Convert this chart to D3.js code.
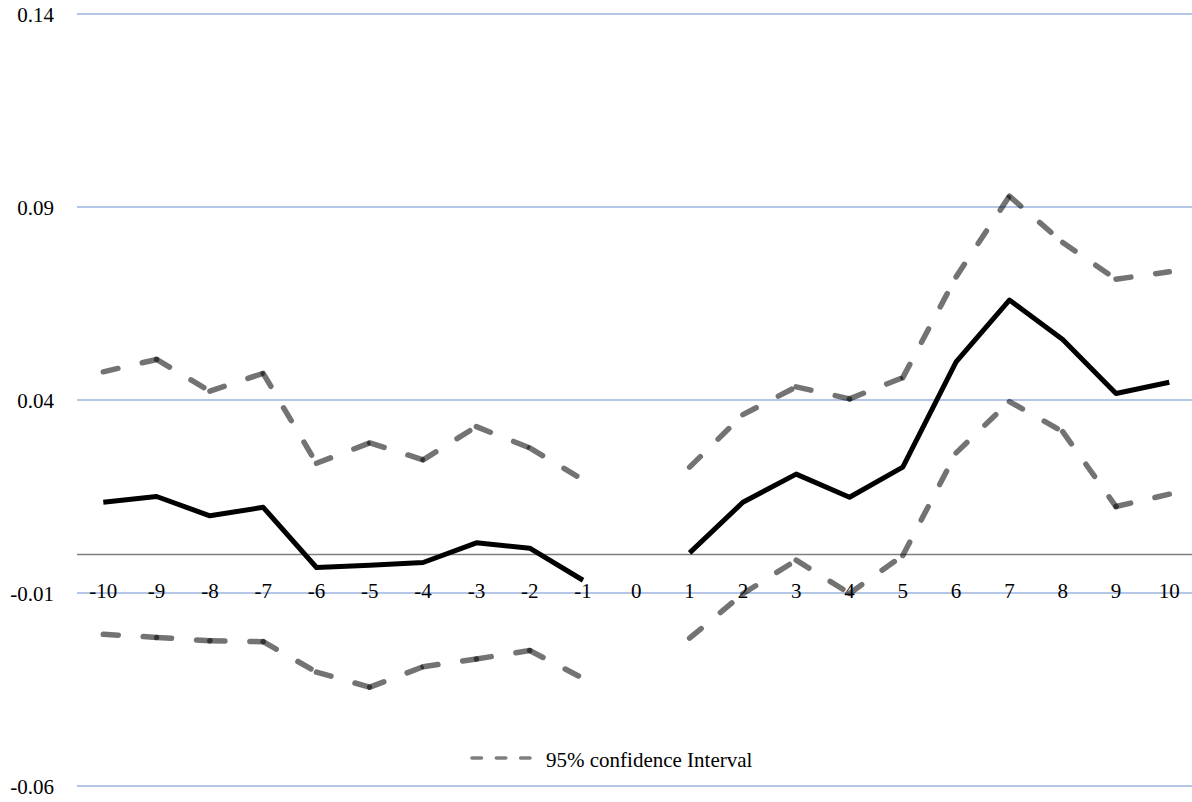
<!DOCTYPE html>
<html>
<head>
<meta charset="utf-8">
<script src="https://cdn.jsdelivr.net/npm/d3@7"></script>
<style>
  html, body { margin: 0; padding: 0; background: #fff; }
  svg { display: block; }
</style>
</head>
<body>
<svg id="chart" width="1192" height="802"></svg>
<script>
// Event window (days relative to the event)
const categories = ["-10","-9","-8","-7","-6","-5","-4","-3","-2","-1","0","1","2","3","4","5","6","7","8","9","10"];
// Point estimate
const estimate = [0.0135, 0.0150, 0.0100, 0.0122, -0.0034, -0.0028, -0.0021, 0.0030, 0.0016, -0.0067, null,
                  0.0004, 0.0135, 0.0208, 0.0148, 0.0226, 0.0499, 0.0659, 0.0557, 0.0417, 0.0446];
// 95% confidence band, upper and lower bounds
const upperCI = [0.0473, 0.0505, 0.0423, 0.0469, 0.0236, 0.0289, 0.0245, 0.0331, 0.0276, 0.0193, null,
                 0.0226, 0.0362, 0.0434, 0.0403, 0.0458, 0.0719, 0.0928, 0.0808, 0.0713, 0.0732];
const lowerCI = [-0.0207, -0.0215, -0.0224, -0.0226, -0.0305, -0.0344, -0.0291, -0.0271, -0.0249, -0.0321, null,
                 -0.0217, -0.0102, -0.0015, -0.0101, -0.0003, 0.0263, 0.0396, 0.0318, 0.0124, 0.0156];
const yTicks = [-0.06, -0.01, 0.04, 0.09, 0.14];
const yTickLabels = ["-0.06", "-0.01", "0.04", "0.09", "0.14"];
const legendLabel = "95% confidence Interval";

const svg = d3.select("#chart");
const fontFamily = "'Liberation Serif', 'Times New Roman', serif";
const fontSize = 21;

const x = d3.scalePoint().domain(categories).range([103.3, 1169.3]);
const y = d3.scaleLinear().domain([-0.06, 0.14]).range([786, 14]);
const plotLeft = 77, plotRight = 1192;

// horizontal gridlines
svg.append("g").selectAll("line").data(yTicks).join("line")
  .attr("x1", plotLeft).attr("x2", plotRight)
  .attr("y1", d => Math.round(y(d))).attr("y2", d => Math.round(y(d)))
  .attr("stroke", "#b4c7e7").attr("stroke-width", 2);

// value axis labels
svg.append("g").selectAll("text").data(yTicks).join("text")
  .attr("x", 54).attr("y", d => y(d) + 7.5)
  .attr("text-anchor", "end")
  .attr("font-family", fontFamily)
  .attr("font-size", fontSize)
  .attr("fill", "#000")
  .text((d, i) => yTickLabels[i]);

// zero line
svg.append("line")
  .attr("x1", plotLeft).attr("x2", plotRight)
  .attr("y1", y(0)).attr("y2", y(0))
  .attr("stroke", "#7f7f7f").attr("stroke-width", 1.5);

// category labels, sitting on the -0.01 gridline
svg.append("g").selectAll("text").data(categories).join("text")
  .attr("x", d => x(d)).attr("y", y(-0.01) + 4.5)
  .attr("text-anchor", "middle")
  .attr("font-family", fontFamily)
  .attr("font-size", fontSize)
  .attr("fill", "#000")
  .text(d => d);

// confidence bounds: each segment drawn as its own dashed path
function segments(values) {
  const segs = [];
  for (let i = 0; i < values.length - 1; i++) {
    if (values[i] != null && values[i + 1] != null) {
      segs.push([[x(categories[i]), y(values[i])], [x(categories[i + 1]), y(values[i + 1])]]);
    }
  }
  return segs;
}
const bandG = svg.append("g");
[upperCI, lowerCI].forEach(vals => {
  bandG.append("g").selectAll("path").data(segments(vals)).join("path")
    .attr("d", d => d3.line()(d))
    .attr("fill", "none")
    .attr("stroke", "#000")
    .attr("stroke-opacity", 0.55)
    .attr("stroke-width", 5.5)
    .attr("stroke-linecap", "round")
    .attr("stroke-dasharray", "15,25");
});

// point estimate
const line = d3.line()
  .defined(d => d.v != null)
  .x(d => x(d.c))
  .y(d => y(d.v));
svg.append("path")
  .datum(categories.map((c, i) => ({ c, v: estimate[i] })))
  .attr("d", line)
  .attr("fill", "none")
  .attr("stroke", "#000")
  .attr("stroke-width", 5)
  .attr("stroke-linejoin", "round");

// legend
const lg = svg.append("g");
lg.append("line")
  .attr("x1", 472).attr("x2", 530).attr("y1", 758).attr("y2", 758)
  .attr("stroke", "#000").attr("stroke-opacity", 0.5)
  .attr("stroke-width", 3.5).attr("stroke-linecap", "round")
  .attr("stroke-dasharray", "9.5,14.8");
lg.append("text")
  .attr("x", 546).attr("y", 767)
  .attr("font-family", fontFamily)
  .attr("font-size", fontSize)
  .attr("fill", "#000")
  .text(legendLabel);
</script>
</body>
</html>
